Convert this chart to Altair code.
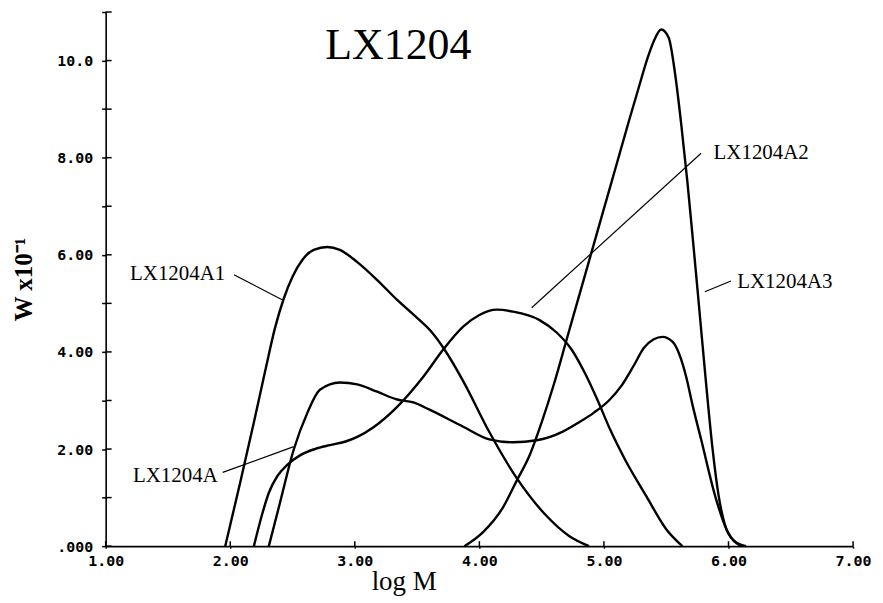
import altair as alt
import pandas as pd

# ---- data (x = log M, y = W x10^-1) ----
a1_x = [1.96, 2.08, 2.19, 2.28, 2.36, 2.43, 2.50, 2.58, 2.67, 2.78, 2.88, 3.02, 3.18, 3.34, 3.50, 3.62, 3.72, 3.87, 4.08, 4.30, 4.54, 4.72, 4.88]
a1_y = [0.00, 1.31, 2.55, 3.60, 4.50, 5.10, 5.55, 5.90, 6.10, 6.16, 6.10, 5.85, 5.48, 5.07, 4.70, 4.40, 4.05, 3.40, 2.35, 1.40, 0.62, 0.21, 0.00]

a_x = [2.31, 2.40, 2.51, 2.62, 2.72, 2.88, 3.02, 3.18, 3.34, 3.47, 3.60, 3.87, 4.08, 4.27, 4.46, 4.67, 4.80, 4.92, 5.04, 5.14, 5.24, 5.32, 5.40, 5.47, 5.55, 5.66, 5.71, 5.78, 5.90, 5.99, 6.10]
a_y = [0.00, 0.90, 1.99, 2.75, 3.22, 3.37, 3.33, 3.18, 3.02, 2.96, 2.81, 2.46, 2.20, 2.14, 2.18, 2.36, 2.55, 2.75, 3.00, 3.30, 3.72, 4.08, 4.26, 4.31, 4.21, 3.49, 2.92, 2.20, 0.97, 0.31, 0.00]

a2_x = [2.19, 2.25, 2.31, 2.38, 2.46, 2.56, 2.68, 2.80, 2.92, 3.02, 3.15, 3.34, 3.55, 3.71, 3.87, 4.00, 4.14, 4.27, 4.48, 4.62, 4.74, 4.85, 4.95, 5.05, 5.17, 5.34, 5.50, 5.63]
a2_y = [0.00, 0.60, 1.10, 1.45, 1.68, 1.87, 2.00, 2.08, 2.15, 2.25, 2.45, 2.87, 3.49, 4.05, 4.52, 4.76, 4.87, 4.83, 4.66, 4.40, 4.05, 3.55, 3.00, 2.40, 1.78, 1.03, 0.35, 0.00]

a3_x = [3.88, 4.03, 4.19, 4.30, 4.40, 4.50, 4.60, 4.70, 4.80, 4.90, 5.00, 5.10, 5.20, 5.28, 5.35, 5.40, 5.46, 5.52, 5.57, 5.62, 5.67, 5.72, 5.77, 5.82, 5.87, 5.92, 5.97, 6.04, 6.14]
a3_y = [0.00, 0.29, 0.80, 1.35, 1.85, 2.55, 3.35, 4.25, 5.15, 6.05, 6.95, 7.85, 8.75, 9.45, 10.05, 10.40, 10.64, 10.47, 9.75, 8.70, 7.50, 6.15, 4.75, 3.35, 2.05, 1.05, 0.45, 0.12, 0.00]

series_names = ["LX1204A1", "LX1204A", "LX1204A2", "LX1204A3"]
series_x = [a1_x, a_x, a2_x, a3_x]
series_y = [a1_y, a_y, a2_y, a3_y]

x_ticks = [1, 2, 3, 4, 5, 6, 7]
y_ticks = [0, 1, 2, 3, 4, 5, 6, 7, 8, 9, 10, 11]

# chart title (placed inside the plot, data coordinates)
title_text = ["LX1204"]
title_x = [3.35]
title_y = [10.04]

# annotation labels (data coordinates)
lab_text = ["LX1204A1", "LX1204A", "LX1204A2", "LX1204A3"]
lab_x = [1.96, 1.90, 5.88, 6.07]
lab_y = [5.61, 1.44, 8.09, 5.44]
lab_align = ["right", "right", "left", "left"]
lead_x1 = [2.03, 1.94, 5.78, 6.02]
lead_y1 = [5.59, 1.52, 8.09, 5.46]
lead_x2 = [2.42, 2.51, 4.42, 5.81]
lead_y2 = [5.07, 2.05, 4.91, 5.24]

# ---- build tables ----
rows = []
for name, xs, ys in zip(series_names, series_x, series_y):
    for i, (xv, yv) in enumerate(zip(xs, ys)):
        rows.append({"series": name, "logM": xv, "W": yv, "order": i})
df = pd.DataFrame(rows)

labels_df = pd.DataFrame({"text": lab_text, "logM": lab_x, "W": lab_y, "align": lab_align})
leads_df = pd.DataFrame({"logM": lead_x1, "W": lead_y1, "logM2": lead_x2, "W2": lead_y2})
title_df = pd.DataFrame({"text": title_text, "logM": title_x, "W": title_y})
xt_df = pd.DataFrame({"logM": x_ticks})
yt_df = pd.DataFrame({"W": y_ticks})

x_scale = alt.Scale(domain=[1, 7], nice=False, zero=False)
y_scale = alt.Scale(domain=[0, 11], nice=False)

x_axis = alt.Axis(
    values=x_ticks,
    labelExpr="format(datum.value, '.2f')",
    tickSize=2, tickWidth=1.5, tickColor="black",
    domainColor="black", domainWidth=1.6,
    labelFont="DejaVu Sans Mono", labelFontWeight="bold", labelFontSize=15,
    labelColor="black", labelPadding=5, labelFlush=False, grid=False,
    titleFont="Liberation Serif", titleFontSize=27, titleFontWeight="normal",
    titleColor="black", titleX=299, titleY=43, titleAlign="center",
    titleBaseline="alphabetic",
)
y_axis = alt.Axis(
    values=y_ticks,
    labelExpr="(datum.value % 2 == 1 || datum.value > 10) ? '' : (datum.value == 0 ? '.000' : (datum.value >= 10 ? format(datum.value, '.1f') : format(datum.value, '.2f')))",
    tickSize=4, tickWidth=1.5, tickColor="black",
    domainColor="black", domainWidth=1.6,
    labelFont="DejaVu Sans Mono", labelFontWeight="bold", labelFontSize=15,
    labelColor="black", labelPadding=9, labelOverlap=False, grid=False,
    titleFont="Liberation Serif", titleFontSize=25, titleFontWeight="bold",
    titleColor="black", titleX=-82, titleY=268, titleAngle=-90,
    titleAlign="center", titleBaseline="middle",
)

lines = alt.Chart(df).mark_line(color="black", strokeWidth=2.4, interpolate="monotone").encode(
    x=alt.X("logM:Q", scale=x_scale, axis=x_axis, title="log M"),
    y=alt.Y("W:Q", scale=y_scale, axis=y_axis, title="W x10⁻¹"),
    detail="series:N",
    order="order:Q",
)

# inner halves of the crossing tick marks
ytick_in = alt.Chart(yt_df).mark_rule(color="black", strokeWidth=1.5).encode(
    y=alt.Y("W:Q", scale=y_scale), x=alt.value(0), x2=alt.value(6)
)
xtick_in = alt.Chart(xt_df).mark_rule(color="black", strokeWidth=1.5).encode(
    x=alt.X("logM:Q", scale=x_scale), y=alt.value(536), y2=alt.value(531)
)

leads = alt.Chart(leads_df).mark_rule(color="black", strokeWidth=1.2).encode(
    x=alt.X("logM:Q", scale=x_scale), y=alt.Y("W:Q", scale=y_scale),
    x2="logM2:Q", y2="W2:Q",
)

text_right = alt.Chart(labels_df).transform_filter("datum.align == 'right'").mark_text(
    align="right", baseline="middle", font="Liberation Serif", fontSize=21, color="black"
).encode(x=alt.X("logM:Q", scale=x_scale), y=alt.Y("W:Q", scale=y_scale), text="text:N")

text_left = alt.Chart(labels_df).transform_filter("datum.align == 'left'").mark_text(
    align="left", baseline="middle", font="Liberation Serif", fontSize=21, color="black"
).encode(x=alt.X("logM:Q", scale=x_scale), y=alt.Y("W:Q", scale=y_scale), text="text:N")

title_mark = alt.Chart(title_df).mark_text(
    align="center", baseline="alphabetic", font="Liberation Serif", fontSize=44, color="black"
).encode(x=alt.X("logM:Q", scale=x_scale), y=alt.Y("W:Q", scale=y_scale), text="text:N")

chart = alt.layer(lines, ytick_in, xtick_in, leads, text_right, text_left, title_mark).properties(
    width=750,
    height=536,
    padding={"left": 98, "top": 3, "right": 22, "bottom": 50},
    autosize=alt.AutoSizeParams(type="none"),
    background="white",
).configure_view(stroke=None)

chart.save("out.html", embed_options={"renderer": "svg", "actions": False})
